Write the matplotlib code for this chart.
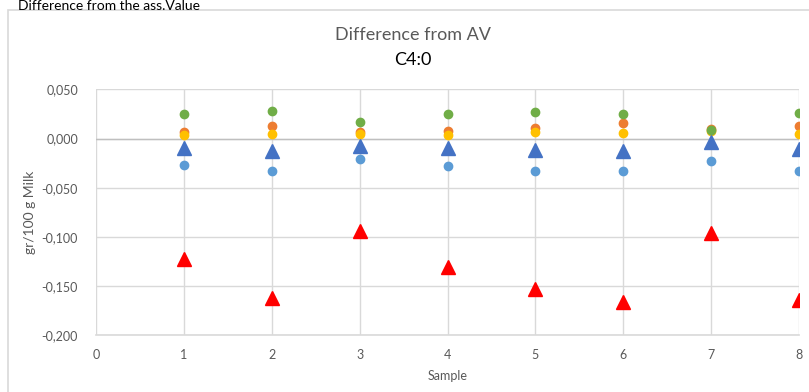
import matplotlib.pyplot as plt
import matplotlib.patches as mpatches
from matplotlib.ticker import FuncFormatter

plt.rcParams['font.family'] = ['Lato', 'DejaVu Sans']

samples = [1, 2, 3, 4, 5, 6, 7, 8]

light_blue = [-0.0268, -0.0335, -0.0210, -0.0275, -0.0332, -0.0332, -0.0228, -0.0332]
orange = [0.0067, 0.0125, 0.0064, 0.0077, 0.0108, 0.0155, 0.0098, 0.0128]
yellow = [0.0034, 0.0044, 0.0046, 0.0034, 0.0071, 0.0054, 0.0081, 0.0047]
green = [0.0254, 0.0277, 0.0166, 0.0250, 0.0270, 0.0250, 0.0090, 0.0260]
blue_tri = [-0.0095, -0.0122, -0.0075, -0.0095, -0.0119, -0.0132, -0.0038, -0.0109]
red_tri = [-0.1227, -0.1616, -0.0941, -0.1305, -0.1528, -0.1657, -0.0965, -0.1643]

fig = plt.figure(figsize=(8.09, 3.92), dpi=100)
ax = fig.add_axes([96 / 809, 1 - 335.3 / 392, 703 / 809, 246 / 392])

# chart area border (cut off at right and bottom)
fig.patches.append(mpatches.Rectangle((8 / 809, -0.1), 1.2, 1.1 - 10 / 392,
                                      transform=fig.transFigure, fill=False,
                                      edgecolor='#d9d9d9', linewidth=1.2))

ax.plot(samples, light_blue, 'o', color='#5B9BD5', markersize=6, zorder=3)
ax.plot(samples, orange, 'o', color='#ED7D31', markersize=6, zorder=3)
ax.plot(samples, yellow, 'o', color='#FFC000', markersize=6, zorder=3)
ax.plot(samples, green, 'o', color='#70AD47', markersize=6, zorder=3)
ax.plot(samples, blue_tri, '^', color='#4472C4', markersize=10, zorder=3)
ax.plot(samples, red_tri, '^', color='#FF0000', markersize=10, zorder=3)

ax.set_xlim(0, 8)
ax.set_ylim(-0.2, 0.05)
ax.set_xticks(range(0, 9))
ax.set_yticks([-0.2, -0.15, -0.1, -0.05, 0.0, 0.05])
ax.yaxis.set_major_formatter(FuncFormatter(lambda v, p: f'{v:.3f}'.replace('.', ',')))
ax.grid(True, color='#d9d9d9', linewidth=1.0, zorder=0)
ax.set_axisbelow(True)
for s in ax.spines.values():
    s.set_visible(False)
ax.axhline(0, color='#bfbfbf', linewidth=1.0, zorder=1)
ax.axhline(-0.2, color='#d9d9d9', linewidth=1.2, zorder=1, clip_on=False)
ax.tick_params(length=0, labelsize=9, labelcolor='#595959', pad=10)
ax.tick_params(axis='y', pad=13)

ax.set_xlabel('Sample', fontsize=9, color='#595959', labelpad=6)
ax.set_ylabel('gr/100 g Milk', fontsize=10, color='#595959', labelpad=4)

fig.text(413 / 809, 1 - 35 / 392, 'Difference from AV', fontsize=13, color='#595959',
         ha='center', va='center')
fig.text(413 / 809, 1 - 60 / 392, 'C4:0', fontsize=13, color='black',
         ha='center', va='center')
fig.text(18 / 809, 1 - 10 / 392, 'Difference from the ass.Value', fontsize=10,
         color='black', ha='left', va='baseline')

fig.savefig('out.png', dpi=100)
